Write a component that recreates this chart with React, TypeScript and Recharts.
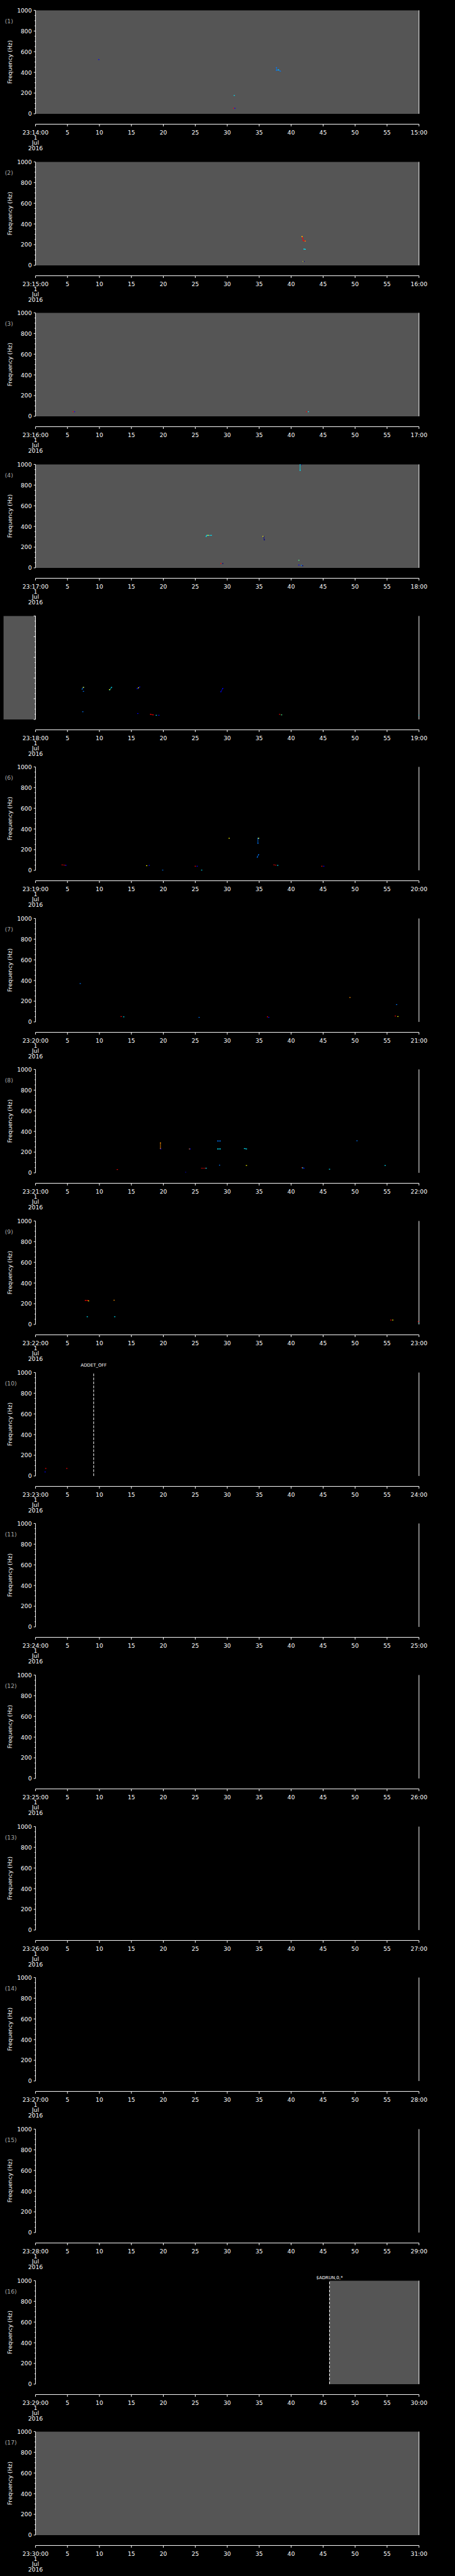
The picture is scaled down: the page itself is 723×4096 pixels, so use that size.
import React from "react";
import { Label, ReferenceArea, ReferenceLine, Scatter, ScatterChart, XAxis, YAxis } from "recharts";

// everything is laid out in reference pixels and scaled by S
const S = 0.705;
const W = 723;
const SLOT = 341.33 * S;
const TOP = 23.3 * S;
const PLOT_H = 233.3 * S;
const LEFT_W = 80 * S;
const RIGHT_W = W - 944.4 * S;
const GAP = 23.5 * S;
const BOTTOM_H = SLOT - TOP - PLOT_H;
const GREY = "#555555";
const FONT = "'DejaVu Sans', Verdana, sans-serif";
const FS = 9.2;

// jet-ish colours of the little specks
const navy = "#00008c";
const blue = "#0000ff";
const azure = "#0078ff";
const cyan = "#00e8ff";
const green = "#50ff90";
const yellow = "#ffff00";
const orange = "#ff9000";
const red = "#ff0000";
const darkred = "#b00000";

const startMinutes = [14, 15, 16, 17, 18, 19, 20, 21, 22, 23, 24, 25, 26, 27, 28, 29, 30];
const xTicks = [0, 5, 10, 15, 20, 25, 30, 35, 40, 45, 50, 55, 60];
const yMajor = [0, 200, 400, 600, 800, 1000];
const yTicks = [0, 50, 100, 150, 200, 250, 300, 350, 400, 450, 500, 550, 600, 650, 700, 750, 800, 850, 900, 950, 1000];
const dateLines = ["1", "Jul", "2016"];

const fullGreyPanels = [1, 2, 3, 4, 17];
const gapBoxes = [
  { panel: 5, from: -5, to: 0 },
  { panel: 16, from: 46, to: 60 },
];
const events = [
  { panel: 10, t: 9.1, text: "ADDET_OFF", offset: 9 },
  { panel: 16, t: 46, text: "$ADRUN,0,*", offset: 2 },
];
const hiddenLeftLabels = [5];

type Mark = { pts: number[][]; c: string };

// [seconds, Hz]
const p1: Mark[] = [
  { pts: [[9.9, 524]], c: blue },
  { pts: [[37.7, 447], [37.7, 420], [38.0, 425], [38.3, 412]], c: azure },
  { pts: [[38.0, 424]], c: cyan },
  { pts: [[31.1, 177]], c: cyan },
  { pts: [[31.0, 53]], c: red },
  { pts: [[31.2, 53]], c: blue },
];
const p2: Mark[] = [
  { pts: [[41.7, 278], [41.8, 262], [41.9, 238], [42.2, 235]], c: red },
  { pts: [[41.7, 278]], c: yellow },
  { pts: [[42.2, 234]], c: orange },
  { pts: [[42.0, 157], [42.2, 155]], c: cyan },
  { pts: [[41.9, 38]], c: yellow },
  { pts: [[42.0, 38]], c: navy },
];
const p3: Mark[] = [
  { pts: [[5.9, 44]], c: red },
  { pts: [[6.1, 44]], c: blue },
  { pts: [[42.4, 44]], c: red },
  { pts: [[42.7, 44]], c: cyan },
];
const p4: Mark[] = [
  { pts: [[41.4, 1000], [41.4, 942]], c: cyan },
  { pts: [[41.6, 998]], c: navy },
  { pts: [[26.7, 303], [26.8, 314], [27.5, 314]], c: cyan },
  { pts: [[27.0, 314]], c: yellow },
  { pts: [[35.7, 303], [35.8, 270]], c: navy },
  { pts: [[35.6, 304]], c: yellow },
  { pts: [[29.0, 42]], c: red },
  { pts: [[29.3, 42]], c: navy },
  { pts: [[41.2, 73]], c: green },
  { pts: [[41.2, 27]], c: blue },
  { pts: [[41.6, 24]], c: azure },
  { pts: [[41.8, 20]], c: navy },
];
const p5: Mark[] = [
  { pts: [[7.3, 293], [7.5, 310]], c: azure },
  { pts: [[7.5, 310]], c: yellow },
  { pts: [[7.5, 271]], c: azure },
  { pts: [[11.6, 286], [11.9, 310]], c: cyan },
  { pts: [[11.6, 288]], c: yellow },
  { pts: [[15.9, 297], [16.3, 314]], c: blue },
  { pts: [[16.1, 305]], c: yellow },
  { pts: [[29.0, 267], [29.3, 300]], c: blue },
  { pts: [[7.4, 74]], c: azure },
  { pts: [[16.0, 57]], c: blue },
  { pts: [[18.0, 49], [18.4, 44]], c: red },
  { pts: [[18.9, 40]], c: cyan },
  { pts: [[19.3, 40]], c: blue },
  { pts: [[38.2, 49]], c: red },
  { pts: [[38.5, 44]], c: green },
  { pts: [[60, 40]], c: cyan },
];
const p6: Mark[] = [
  { pts: [[4.15, 53], [4.6, 50]], c: darkred },
  { pts: [[4.75, 48]], c: blue },
  { pts: [[17.4, 45]], c: yellow },
  { pts: [[17.8, 48]], c: blue },
  { pts: [[19.9, 2]], c: azure },
  { pts: [[25.0, 40]], c: red },
  { pts: [[25.3, 40]], c: blue },
  { pts: [[26.0, 2]], c: cyan },
  { pts: [[30.3, 310]], c: yellow },
  { pts: [[34.8, 261], [34.8, 310], [34.9, 310]], c: azure },
  { pts: [[34.9, 310]], c: yellow },
  { pts: [[34.7, 127], [34.9, 152]], c: azure },
  { pts: [[37.3, 53], [37.6, 50]], c: darkred },
  { pts: [[37.9, 48]], c: cyan },
  { pts: [[44.8, 40]], c: red },
  { pts: [[45.1, 40]], c: blue },
];
const p7: Mark[] = [
  { pts: [[7.0, 371]], c: azure },
  { pts: [[49.2, 236]], c: orange },
  { pts: [[56.5, 167]], c: azure },
  { pts: [[13.4, 52]], c: red },
  { pts: [[13.8, 49]], c: cyan },
  { pts: [[25.6, 44]], c: azure },
  { pts: [[36.3, 49]], c: red },
  { pts: [[36.5, 44]], c: blue },
  { pts: [[56.3, 57]], c: red },
  { pts: [[56.7, 52]], c: yellow },
];
const p8: Mark[] = [
  { pts: [[19.55, 290], [19.55, 234]], c: orange },
  { pts: [[19.6, 231]], c: blue },
  { pts: [[24.1, 231]], c: orange },
  { pts: [[24.2, 231]], c: blue },
  { pts: [[28.5, 308], [28.9, 308]], c: azure },
  { pts: [[28.5, 231], [28.9, 231]], c: cyan },
  { pts: [[32.7, 234], [33.0, 231]], c: cyan },
  { pts: [[50.3, 310]], c: azure },
  { pts: [[28.8, 74]], c: azure },
  { pts: [[33.0, 71]], c: yellow },
  { pts: [[12.8, 32]], c: red },
  { pts: [[23.5, 6]], c: navy },
  { pts: [[26.0, 45], [26.6, 45]], c: darkred },
  { pts: [[26.7, 45]], c: cyan },
  { pts: [[41.7, 50]], c: red },
  { pts: [[41.8, 48]], c: cyan },
  { pts: [[42.0, 45]], c: blue },
  { pts: [[46.0, 35]], c: cyan },
  { pts: [[54.7, 71]], c: cyan },
];
const p9: Mark[] = [
  { pts: [[7.8, 232], [8.2, 232]], c: red },
  { pts: [[8.3, 227]], c: yellow },
  { pts: [[12.3, 234]], c: orange },
  { pts: [[8.1, 74]], c: cyan },
  { pts: [[12.4, 74]], c: cyan },
  { pts: [[55.6, 42]], c: red },
  { pts: [[55.9, 42]], c: yellow },
  { pts: [[59.9, 26]], c: red },
  { pts: [[60, 13]], c: cyan },
];
const p10: Mark[] = [
  { pts: [[1.6, 73]], c: red },
  { pts: [[4.9, 73]], c: red },
  { pts: [[1.5, 39]], c: blue },
];
const panelMarks: Mark[][] = [p1, p2, p3, p4, p5, p6, p7, p8, p9, p10, [], [], [], [], [], [], []];

function LeftTick({ x, y, payload, showLabel }: any) {
  const v = payload.value;
  const major = yMajor.includes(v);
  return (
    <g>
      <line x1={x} x2={x - (major ? 4 : 2) * S} y1={y} y2={y} stroke="#fff" />
      {major && showLabel && (
        <text x={x - 8.3 * S} y={y} textAnchor="end" dominantBaseline="central" fill="#fff" fontSize={FS} fontFamily={FONT}>
          {v}
        </text>
      )}
    </g>
  );
}

function RightTick({ x, y, payload }: any) {
  const major = yMajor.includes(payload.value);
  return <line x1={x} x2={x + (major ? 4 : 2) * S} y1={y} y2={y} stroke="#fff" />;
}

function TimeTick({ x, y, payload, minute }: any) {
  const v = payload.value;
  const ly = y + GAP;
  let text = String(v);
  if (v === 0) text = `23:${minute}:00`;
  if (v === 60) text = `${minute + 1}:00`;
  return (
    <g fontFamily={FONT} fontSize={FS} fill="#fff">
      <line x1={x} x2={x} y1={ly} y2={ly + 5 * S} stroke="#fff" />
      <text x={x} y={ly + 18 * S} textAnchor="middle" dominantBaseline="central">
        {text}
      </text>
      {v === 0 &&
        dateLines.map((d, k) => (
          <text key={d} x={x} y={ly + (30 + 11.7 * k) * S} textAnchor="middle" dominantBaseline="central">
            {d}
          </text>
        ))}
    </g>
  );
}

function SideLabel({ viewBox, n, show }: any) {
  if (!show || !viewBox) return null;
  const cy = viewBox.y + viewBox.height / 2;
  return (
    <g fontFamily={FONT} fontSize={FS}>
      <text x={11 * S} y={viewBox.y + 24 * S} dominantBaseline="central" fill="#a8a8a8">
        ({n})
      </text>
      <text
        x={22 * S}
        y={cy}
        textAnchor="middle"
        dominantBaseline="central"
        fill="#fff"
        transform={`rotate(-90 ${22 * S} ${cy})`}
      >
        Frequency  (Hz)
      </text>
    </g>
  );
}

function Panel({ n }: { n: number }) {
  const i = n - 1;
  const minute = startMinutes[i];
  const showLeft = !hiddenLeftLabels.includes(n);
  const boxes = gapBoxes.filter((b) => b.panel === n);
  const evs = events.filter((e) => e.panel === n);
  return (
    <div style={{ position: "absolute", left: 0, top: i * SLOT, width: W, height: SLOT }}>
      <ScatterChart width={W} height={SLOT} margin={{ top: TOP, right: 0, bottom: 0, left: 0 }}>
        {fullGreyPanels.includes(n) && (
          <ReferenceArea x1={0} x2={60} fill={GREY} fillOpacity={1} stroke="none" />
        )}
        <XAxis
          dataKey="t"
          type="number"
          domain={[0, 60]}
          ticks={xTicks}
          interval={0}
          allowDataOverflow
          height={BOTTOM_H}
          tickSize={0}
          tickMargin={0}
          tickLine={false}
          axisLine={{ stroke: "#fff", transform: `translate(0 ${GAP})` }}
          tick={<TimeTick minute={minute} />}
        />
        <YAxis
          dataKey="f"
          type="number"
          domain={[0, 1000]}
          ticks={yTicks}
          interval={0}
          allowDataOverflow
          width={LEFT_W}
          tickSize={0}
          tickMargin={0}
          tickLine={false}
          axisLine={{ stroke: "#fff" }}
          tick={<LeftTick showLabel={showLeft} />}
          label={<SideLabel n={n} show={showLeft} />}
        />
        <YAxis
          yAxisId="r"
          orientation="right"
          type="number"
          domain={[0, 1000]}
          ticks={yTicks}
          interval={0}
          width={RIGHT_W}
          tickSize={0}
          tickMargin={0}
          tickLine={false}
          axisLine={{ stroke: "#fff" }}
          tick={<RightTick />}
        />
        {boxes.map((b) => (
          <ReferenceArea key={b.from} x1={b.from} x2={b.to} fill={GREY} fillOpacity={1} stroke="none" ifOverflow="visible" />
        ))}
        {evs.map((e) => (
          <ReferenceLine key={e.text} x={e.t} stroke="#fff" strokeWidth={1} strokeDasharray={`${6 * S} ${3 * S}`}>
            <Label value={e.text} position="top" offset={e.offset} fill="#fff" fontSize={7} fontFamily={FONT} />
          </ReferenceLine>
        ))}
        {panelMarks[i].map((m, k) => (
          <Scatter
            key={k}
            data={m.pts.map(([t, f]) => ({ t, f }))}
            fill={m.c}
            line={m.pts.length > 1 ? { stroke: m.c, strokeWidth: 0.8 } : false}
            isAnimationActive={false}
            shape={(p: any) => <rect x={p.cx - 0.9} y={p.cy - 0.6} width={1.8} height={1.2} fill={m.c} />}
          />
        ))}
      </ScatterChart>
    </div>
  );
}

export default function App() {
  return (
    <div style={{ position: "absolute", left: 0, top: 0, width: W, height: 4096, background: "#000", overflow: "hidden" }}>
      {startMinutes.map((_, i) => (
        <Panel key={i} n={i + 1} />
      ))}
    </div>
  );
}
